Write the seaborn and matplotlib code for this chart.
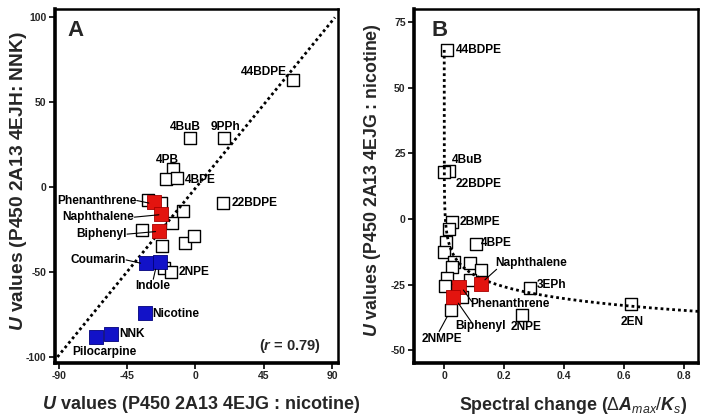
import numpy as np
import pandas as pd
import matplotlib
matplotlib.use("Agg")
import matplotlib.pyplot as plt
import seaborn as sns

# ---------------- data ----------------
# Panel A: U values (4EJG : nicotine) vs U values (4EJH : NNK)
a_open_names = ["44BDPE", "4BuB", "9PPh", "4PB", "", "4BPE", "22BDPE", "", "", "",
                "", "", "", "", "", "", "2NPE"]
a_open_x = [64, -3.3, 19, -14.7, -19.1, -12, 18.4, -31.4, -22.6, -8.4,
            -15.3, -35.1, -21.9, -7.2, -0.7, -20.9, -16.4]
a_open_y = [63, 29.2, 29, 10.7, 4.8, 5.4, -9, -7.4, -9.3, -13.9,
            -21.1, -25.1, -34.3, -32.6, -28.6, -47.7, -49.7]
a_red_names = ["Phenanthrene", "Naphthalene", "Biphenyl"]
a_red_x = [-27.4, -22.6, -24.1]
a_red_y = [-8.4, -15.6, -25.7]
a_blue_names = ["Coumarin", "Indole", "Nicotine", "NNK", "Pilocarpine"]
a_blue_x = [-32.9, -23.5, -33.4, -55.5, -65.6]
a_blue_y = [-44.7, -43.8, -73.9, -86.4, -88.4]
a_fit_slope = 1.093
a_fit_intercept = -0.5
a_fit_xrange = [-91, 92]
a_r_value = 0.79

# Panel B: spectral change vs U values (4EJG : nicotine)
b_open_names = ["44BDPE", "4BuB", "22BDPE", "2BMPE", "", "", "4BPE", "", "", "",
                "", "", "", "", "", "", "2NMPE", "3EPh", "2NPE", "2EN"]
b_open_x = [0.008, 0.017, 0.0, 0.027, 0.017, 0.006, 0.106, 0.0, 0.033, 0.086,
            0.123, 0.025, 0.008, 0.002, 0.086, 0.06, 0.022, 0.287, 0.261, 0.623]
b_open_y = [64.4, 18.4, 17.8, -1.3, -3.9, -8.6, -9.5, -12.5, -16.3, -16.7,
            -19.4, -18.4, -22.6, -25.6, -23.2, -29.6, -34.7, -26.2, -36.6, -32.6]
b_red_names = ["Naphthalene", "Phenanthrene", "Biphenyl"]
b_red_x = [0.123, 0.05, 0.030]
b_red_y = [-24.8, -26.0, -29.6]
# logarithmic trend: y = a + b*ln(x)
b_fit_a = -36.3
b_fit_b = -6.5
b_fit_ytop = 64.4
b_fit_xmax = 0.85

a_xticks = [-90, -45, 0, 45, 90]
a_yticks = [-100, -50, 0, 50, 100]
b_xticks = [0, 0.2, 0.4, 0.6, 0.8]
b_xticklabels = ["0", "0.2", "0.4", "0.6", "0.8"]
b_yticks = [-50, -25, 0, 25, 50, 75]

# ---------------- style ----------------
sns.set_theme(style="white")
plt.rcParams["font.family"] = ["Liberation Sans", "DejaVu Sans"]
plt.rcParams["axes.unicode_minus"] = False
plt.rcParams["mathtext.fontset"] = "custom"
plt.rcParams["mathtext.rm"] = "Liberation Sans"
plt.rcParams["mathtext.it"] = "Liberation Sans:italic"
plt.rcParams["mathtext.bf"] = "Liberation Sans:bold"
plt.rcParams["mathtext.bfit"] = "Liberation Sans:italic:bold"

RED = "#E3140F"
RED_EDGE = "#A80000"
BLUE = "#1212C8"
BLUE_EDGE = "#00007A"
LBL = dict(fontsize=8.6, fontweight="bold", color="black")
OPEN_S = 86
FILL_S = 100

fig = plt.figure(figsize=(7.04, 4.19), dpi=100)
axA = fig.add_axes([55 / 704, 1 - 363 / 419, 283 / 704, 354 / 419])
axB = fig.add_axes([414 / 704, 1 - 363 / 419, 284 / 704, 354 / 419])

dfA_open = pd.DataFrame({"x": a_open_x, "y": a_open_y, "name": a_open_names})
dfA_red = pd.DataFrame({"x": a_red_x, "y": a_red_y, "name": a_red_names})
dfA_blue = pd.DataFrame({"x": a_blue_x, "y": a_blue_y, "name": a_blue_names})
dfB_open = pd.DataFrame({"x": b_open_x, "y": b_open_y, "name": b_open_names})
dfB_red = pd.DataFrame({"x": b_red_x, "y": b_red_y, "name": b_red_names})

# ---------------- panel A ----------------
sns.scatterplot(data=dfA_open, x="x", y="y", ax=axA, marker="s", s=OPEN_S,
                facecolor="white", edgecolor="black", linewidth=1.0, zorder=2)
fx = np.array(a_fit_xrange, dtype=float)
fit_df = pd.DataFrame({"x": fx, "y": a_fit_slope * fx + a_fit_intercept})
sns.lineplot(data=fit_df, x="x", y="y", ax=axA, color="black", linewidth=2.0,
             linestyle=(0, (1, 1.1)), zorder=3)
sns.scatterplot(data=dfA_red, x="x", y="y", ax=axA, marker="s", s=FILL_S,
                facecolor=RED, edgecolor=RED_EDGE, linewidth=0.6, zorder=4)
sns.scatterplot(data=dfA_blue, x="x", y="y", ax=axA, marker="s", s=FILL_S,
                facecolor=BLUE, edgecolor=BLUE_EDGE, linewidth=0.6, zorder=4)

axA.set_xlim(-92.6, 94)
axA.set_ylim(-103.5, 105)
axA.set_xticks(a_xticks)
axA.set_yticks(a_yticks)

# labels panel A: name -> (text x, text y, ha, leader target or None)
a_lab = {
    "44BDPE": (60, 68, "right", None),
    "4BuB": (-6.6, 35.3, "center", None),
    "9PPh": (19.7, 35.3, "center", None),
    "4PB": (-18.6, 16.2, "center", None),
    "4BPE": (-7, 4.4, "left", None),
    "22BDPE": (23.7, -9.1, "left", None),
    "2NPE": (-11.4, -49.7, "left", None),
    "Phenanthrene": (-39, -7.8, "right", (-30.7, -9.3)),
    "Naphthalene": (-40.6, -17.6, "right", (-24.1, -16.2)),
    "Biphenyl": (-45.4, -27.6, "right", (-26.3, -26.1)),
    "Coumarin": (-46, -42.8, "right", (-36.2, -44.7)),
    "Indole": (-28.1, -58, "center", None),
    "Nicotine": (-28.5, -74.6, "left", None),
    "NNK": (-50, -86.6, "left", None),
    "Pilocarpine": (-59.9, -96.9, "center", None),
}
for name, (tx, ty, ha, tgt) in a_lab.items():
    axA.text(tx, ty, name, ha=ha, va="center", zorder=6, **LBL)
    if tgt is not None:
        axA.plot([tx + (0.3 if ha == "right" else 0), tgt[0]], [ty, tgt[1]],
                 color="black", lw=0.8, zorder=5)
axA.plot([-27.8, -26.3], [-54.2, -48.3], color="black", lw=0.8, zorder=5)

axA.text(82.7, -93.5, r"($\mathbfit{r}$ = " + f"{a_r_value:.2f})", ha="right",
         va="center", fontsize=10.5, fontweight="bold")
axA.text(0.045, 0.94, "A", transform=axA.transAxes, fontsize=16,
         fontweight="bold", ha="left", va="center")

axA.set_xlabel(r"$\mathbfit{U}$ values (P450 2A13 4EJG : nicotine)",
               fontsize=13, fontweight="bold")
axA.set_ylabel(r"$\mathbfit{U}$ values (P450 2A13 4EJH: NNK)",
               fontsize=13.8, fontweight="bold")
axA.xaxis.label.set_va("center")
axA.yaxis.label.set_va("center")
axA.xaxis.set_label_coords((201.5 - 55) / 283, (363 - 404) / 354)
axA.yaxis.set_label_coords((19 - 55) / 283, (363 - 181) / 354)

# ---------------- panel B ----------------
sns.scatterplot(data=dfB_open, x="x", y="y", ax=axB, marker="s", s=OPEN_S,
                facecolor="white", edgecolor="black", linewidth=1.0, zorder=2)
x_start = np.exp((b_fit_ytop - b_fit_a) / b_fit_b)
cx = np.geomspace(x_start, b_fit_xmax, 600)
curve_df = pd.DataFrame({"x": cx, "y": b_fit_a + b_fit_b * np.log(cx)})
sns.lineplot(data=curve_df, x="x", y="y", ax=axB, color="black", linewidth=2.0,
             linestyle=(0, (1, 1.1)), zorder=3, sort=False)
sns.scatterplot(data=dfB_red, x="x", y="y", ax=axB, marker="s", s=FILL_S,
                facecolor=RED, edgecolor=RED_EDGE, linewidth=0.6, zorder=4)

axB.set_xlim(-0.101, 0.848)
axB.set_ylim(-54.9, 80)
axB.set_xticks(b_xticks)
axB.set_xticklabels(b_xticklabels)
axB.set_yticks(b_yticks)

b_lab = {
    "44BDPE": (0.039, 64.4, "left", None),
    "4BuB": (0.027, 22.5, "left", None),
    "22BDPE": (0.039, 13.3, "left", None),
    "2BMPE": (0.05, -1.0, "left", None),
    "4BPE": (0.123, -9.0, "left", None),
    "Naphthalene": (0.172, -16.9, "left", ((0.175, -19.2), (0.136, -23.2))),
    "3EPh": (0.309, -25.2, "left", None),
    "Phenanthrene": (0.086, -32.5, "left", ((0.092, -31.5), (0.064, -27.1))),
    "Biphenyl": (0.036, -40.8, "left", ((0.092, -39.5), (0.047, -32.1))),
    "2NPE": (0.273, -41.0, "center", None),
    "2NMPE": (-0.007, -45.9, "center", ((-0.017, -42.9), (0.010, -37.2))),
    "2EN": (0.629, -39.4, "center", None),
}
for name, (tx, ty, ha, seg) in b_lab.items():
    axB.text(tx, ty, name, ha=ha, va="center", zorder=6, **LBL)
    if seg is not None:
        axB.plot([seg[0][0], seg[1][0]], [seg[0][1], seg[1][1]],
                 color="black", lw=0.8, zorder=5)

axB.text(0.06, 0.94, "B", transform=axB.transAxes, fontsize=16,
         fontweight="bold", ha="left", va="center")
axB.set_xlabel(r"Spectral change ($\Delta\mathbfit{A}_{\mathit{max}}/\mathbfit{K}_{\mathit{s}}$)",
               fontsize=12.8, fontweight="bold")
axB.set_ylabel(r"$\mathbfit{U}$ values (P450 2A13 4EJG : nicotine)",
               fontsize=12.8, fontweight="bold")
axB.xaxis.label.set_va("center")
axB.yaxis.label.set_va("center")
axB.xaxis.set_label_coords((573 - 414) / 284, (363 - 405) / 354)
axB.yaxis.set_label_coords((373 - 414) / 284, (363 - 180) / 354)

for ax in (axA, axB):
    for side, sp in ax.spines.items():
        sp.set_visible(True)
        sp.set_color("black")
        sp.set_linewidth(2.6 if side in ("left", "bottom") else 1.8)
    ax.tick_params(axis="both", which="major", direction="out", length=4,
                   width=1.2, color="black", labelsize=7.5, pad=2,
                   bottom=True, left=True, top=False, right=False)
    for lab in ax.get_xticklabels() + ax.get_yticklabels():
        lab.set_fontweight("bold")
    ax.grid(False)
    ax.set_facecolor("white")

fig.savefig("out.png", dpi=100, facecolor="white")
